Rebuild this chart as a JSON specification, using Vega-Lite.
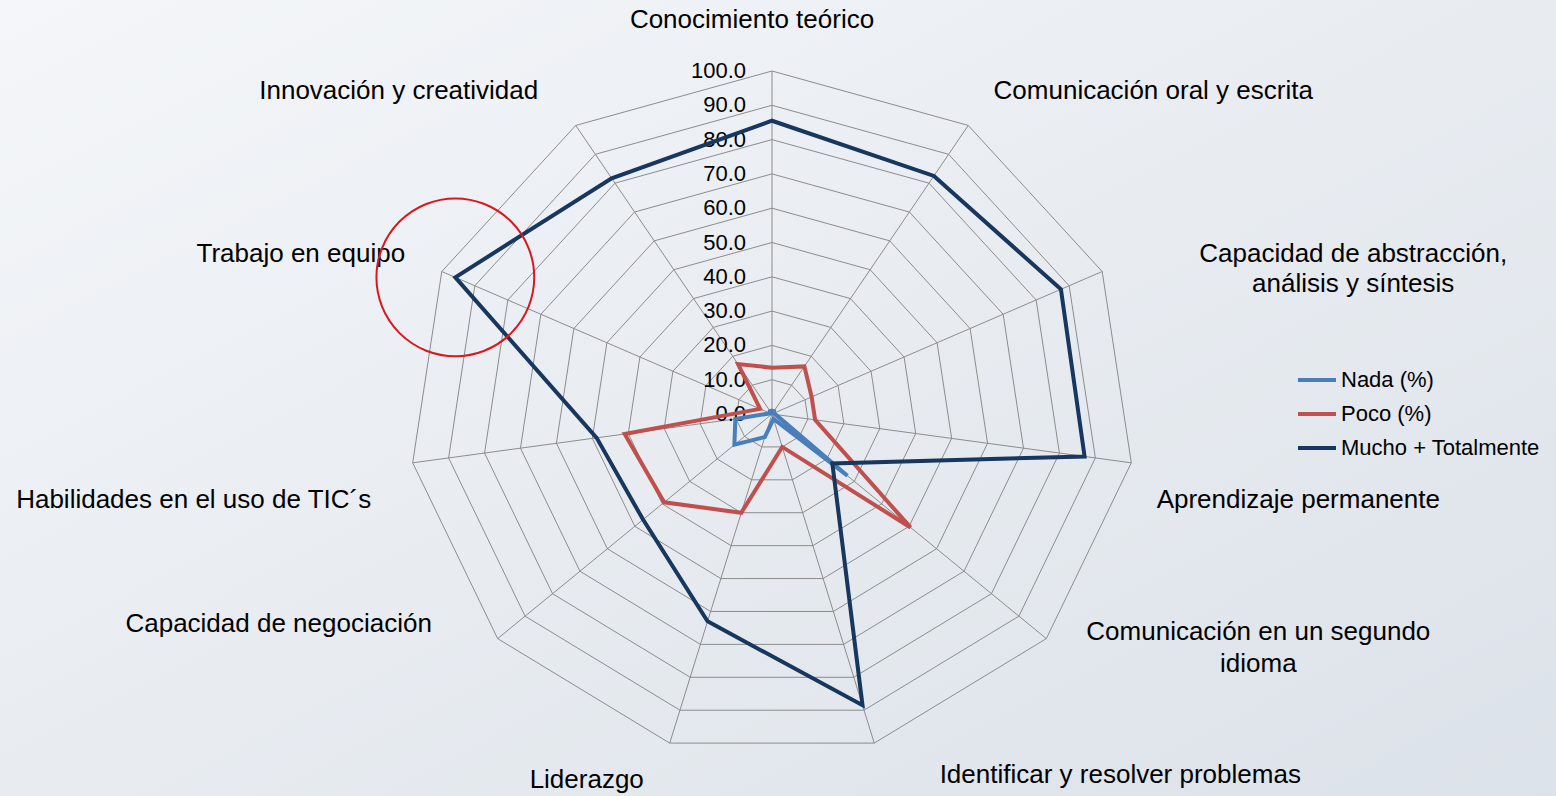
{
  "$schema": "https://vega.github.io/schema/vega-lite/v6.json",
  "width": 1556,
  "height": 796,
  "autosize": {"type": "none"},
  "padding": 0,
  "background": "#e8ecf1",
  "config": {
    "font": "Liberation Sans",
    "view": {
      "stroke": null,
      "fill": {"gradient": "linear", "x1": 0, "y1": 0, "x2": 1, "y2": 1,
        "stops": [{"offset": 0, "color": "#f4f6f9"}, {"offset": 0.5, "color": "#e8ecf1"}, {"offset": 1, "color": "#dce2e9"}]}
    }
  },
  "datasets": {
    "axes": [
      {"k": 0, "name": "Conocimiento teórico", "rings": [0, 10, 20, 30, 40, 50, 60, 70, 80, 90, 100]},
      {"k": 1, "name": "Comunicación oral y escrita", "rings": [0, 10, 20, 30, 40, 50, 60, 70, 80, 90, 100]},
      {"k": 2, "name": "Capacidad de abstracción,\nanálisis y síntesis", "rings": [0, 10, 20, 30, 40, 50, 60, 70, 80, 90, 100]},
      {"k": 3, "name": "Aprendizaje permanente", "rings": [0, 10, 20, 30, 40, 50, 60, 70, 80, 90, 100]},
      {"k": 4, "name": "Comunicación en un segundo\nidioma", "rings": [0, 10, 20, 30, 40, 50, 60, 70, 80, 90, 100]},
      {"k": 5, "name": "Identificar y resolver problemas", "rings": [0, 10, 20, 30, 40, 50, 60, 70, 80, 90, 100]},
      {"k": 6, "name": "Liderazgo", "rings": [0, 10, 20, 30, 40, 50, 60, 70, 80, 90, 100]},
      {"k": 7, "name": "Capacidad de negociación", "rings": [0, 10, 20, 30, 40, 50, 60, 70, 80, 90, 100]},
      {"k": 8, "name": "Habilidades en el uso de TIC´s", "rings": [0, 10, 20, 30, 40, 50, 60, 70, 80, 90, 100]},
      {"k": 9, "name": "Trabajo en equipo", "rings": [0, 10, 20, 30, 40, 50, 60, 70, 80, 90, 100]},
      {"k": 10, "name": "Innovación y creatividad", "rings": [0, 10, 20, 30, 40, 50, 60, 70, 80, 90, 100]}
    ],
    "series": [
      {"series": "Nada (%)", "k": 0, "value": 1},
      {"series": "Nada (%)", "k": 1, "value": 1},
      {"series": "Nada (%)", "k": 2, "value": 0.5},
      {"series": "Nada (%)", "k": 3, "value": 1},
      {"series": "Nada (%)", "k": 4, "value": 27.5},
      {"series": "Nada (%)", "k": 5, "value": 1.5},
      {"series": "Nada (%)", "k": 6, "value": 7},
      {"series": "Nada (%)", "k": 7, "value": 13.7},
      {"series": "Nada (%)", "k": 8, "value": 10.2},
      {"series": "Nada (%)", "k": 9, "value": 0.5},
      {"series": "Nada (%)", "k": 10, "value": 1},
      {"series": "Poco (%)", "k": 0, "value": 13.5},
      {"series": "Poco (%)", "k": 1, "value": 16.5},
      {"series": "Poco (%)", "k": 2, "value": 12},
      {"series": "Poco (%)", "k": 3, "value": 12},
      {"series": "Poco (%)", "k": 4, "value": 50.5},
      {"series": "Poco (%)", "k": 5, "value": 10},
      {"series": "Poco (%)", "k": 6, "value": 30},
      {"series": "Poco (%)", "k": 7, "value": 39.3},
      {"series": "Poco (%)", "k": 8, "value": 41},
      {"series": "Poco (%)", "k": 9, "value": 3.6},
      {"series": "Poco (%)", "k": 10, "value": 17.3},
      {"series": "Mucho + Totalmente", "k": 0, "value": 85.5},
      {"series": "Mucho + Totalmente", "k": 1, "value": 82.5},
      {"series": "Mucho + Totalmente", "k": 2, "value": 87.5},
      {"series": "Mucho + Totalmente", "k": 3, "value": 87},
      {"series": "Mucho + Totalmente", "k": 4, "value": 22},
      {"series": "Mucho + Totalmente", "k": 5, "value": 88.5},
      {"series": "Mucho + Totalmente", "k": 6, "value": 63},
      {"series": "Mucho + Totalmente", "k": 7, "value": 47},
      {"series": "Mucho + Totalmente", "k": 8, "value": 48.8},
      {"series": "Mucho + Totalmente", "k": 9, "value": 95.9},
      {"series": "Mucho + Totalmente", "k": 10, "value": 81.7}
    ]
  },
  "encoding": {
    "x": {"field": "px", "type": "quantitative", "axis": null,
      "scale": {"domain": [-212.67, 215.98], "nice": false, "zero": false}},
    "y": {"field": "py", "type": "quantitative", "axis": null,
      "scale": {"domain": [-111.37, 120.7], "nice": false, "zero": false}}
  },
  "layer": [
    {
      "data": {"name": "axes"},
      "transform": [
        {"flatten": ["rings"], "as": ["ring"]},
        {"filter": "datum.ring > 0"},
        {"calculate": "datum.ring * sin(datum.k * 2 * PI / 11)", "as": "px"},
        {"calculate": "datum.ring * cos(datum.k * 2 * PI / 11)", "as": "py"}
      ],
      "mark": {"type": "line", "interpolate": "linear-closed", "stroke": "#8c8c8c", "strokeWidth": 1},
      "encoding": {
        "detail": {"field": "ring", "type": "nominal"},
        "order": {"field": "k", "type": "quantitative"}
      }
    },
    {
      "data": {"name": "axes"},
      "transform": [
        {"calculate": "100 * sin(datum.k * 2 * PI / 11)", "as": "px"},
        {"calculate": "100 * cos(datum.k * 2 * PI / 11)", "as": "py"}
      ],
      "layer": [
        {
          "mark": {"type": "rule", "stroke": "#8c8c8c", "strokeWidth": 1},
          "encoding": {"x2": {"datum": 0}, "y2": {"datum": 0}}
        },
        {"transform": [{"filter": "datum.k == 0"}], "mark": {"type": "text", "fontSize": 26, "align": "center", "baseline": "middle", "lineBreak": "\n", "lineHeight": 30, "color": "#000000", "dx": -20, "dy": -51}, "encoding": {"text": {"field": "name"}}},
        {"transform": [{"filter": "datum.k == 1"}], "mark": {"type": "text", "fontSize": 26, "align": "center", "baseline": "middle", "lineBreak": "\n", "lineHeight": 30, "color": "#000000", "dx": 185, "dy": -34}, "encoding": {"text": {"field": "name"}}},
        {"transform": [{"filter": "datum.k == 2"}], "mark": {"type": "text", "fontSize": 26, "align": "center", "baseline": "middle", "lineBreak": "\n", "lineHeight": 30, "color": "#000000", "dx": 251, "dy": -18}, "encoding": {"text": {"field": "name"}}},
        {"transform": [{"filter": "datum.k == 3"}], "mark": {"type": "text", "fontSize": 26, "align": "center", "baseline": "middle", "lineBreak": "\n", "lineHeight": 30, "color": "#000000", "dx": 167, "dy": 37}, "encoding": {"text": {"field": "name"}}},
        {"transform": [{"filter": "datum.k == 4"}], "mark": {"type": "text", "fontSize": 26, "align": "center", "baseline": "middle", "lineBreak": "\n", "lineHeight": 32, "color": "#000000", "dx": 212, "dy": -7}, "encoding": {"text": {"field": "name"}}},
        {"transform": [{"filter": "datum.k == 5"}], "mark": {"type": "text", "fontSize": 26, "align": "center", "baseline": "middle", "lineBreak": "\n", "lineHeight": 30, "color": "#000000", "dx": 246, "dy": 32}, "encoding": {"text": {"field": "name"}}},
        {"transform": [{"filter": "datum.k == 6"}], "mark": {"type": "text", "fontSize": 26, "align": "center", "baseline": "middle", "lineBreak": "\n", "lineHeight": 30, "color": "#000000", "dx": -83, "dy": 37}, "encoding": {"text": {"field": "name"}}},
        {"transform": [{"filter": "datum.k == 7"}], "mark": {"type": "text", "fontSize": 26, "align": "center", "baseline": "middle", "lineBreak": "\n", "lineHeight": 30, "color": "#000000", "dx": -219, "dy": -15}, "encoding": {"text": {"field": "name"}}},
        {"transform": [{"filter": "datum.k == 8"}], "mark": {"type": "text", "fontSize": 26, "align": "center", "baseline": "middle", "lineBreak": "\n", "lineHeight": 30, "color": "#000000", "dx": -219, "dy": 37}, "encoding": {"text": {"field": "name"}}},
        {"transform": [{"filter": "datum.k == 9"}], "mark": {"type": "text", "fontSize": 26, "align": "center", "baseline": "middle", "lineBreak": "\n", "lineHeight": 30, "color": "#000000", "dx": -141, "dy": -18}, "encoding": {"text": {"field": "name"}}},
        {"transform": [{"filter": "datum.k == 10"}], "mark": {"type": "text", "fontSize": 26, "align": "center", "baseline": "middle", "lineBreak": "\n", "lineHeight": 30, "color": "#000000", "dx": -177, "dy": -34}, "encoding": {"text": {"field": "name"}}}
      ]
    },
    {
      "data": {"name": "axes"},
      "transform": [
        {"filter": "datum.k == 0"},
        {"flatten": ["rings"], "as": ["ring"]},
        {"calculate": "0", "as": "px"},
        {"calculate": "datum.ring", "as": "py"}
      ],
      "mark": {"type": "text", "fontSize": 22, "align": "right", "baseline": "middle", "dx": -26, "color": "#000000"},
      "encoding": {"text": {"field": "ring", "type": "quantitative", "format": ".1f"}}
    },
    {
      "data": {"name": "series"},
      "transform": [
        {"calculate": "datum.value * sin(datum.k * 2 * PI / 11)", "as": "px"},
        {"calculate": "datum.value * cos(datum.k * 2 * PI / 11)", "as": "py"}
      ],
      "mark": {"type": "line", "interpolate": "linear-closed", "strokeWidth": 4, "strokeJoin": "miter"},
      "encoding": {
        "color": {"field": "series", "type": "nominal", "sort": null,
          "scale": {"domain": ["Nada (%)", "Poco (%)", "Mucho + Totalmente"], "range": ["#4a7ebb", "#c0504d", "#17375e"]},
          "legend": {"title": null, "orient": "none", "legendX": 1296, "legendY": 359, "symbolType": "stroke", "symbolSize": 1444, "symbolStrokeWidth": 4, "labelFontSize": 22, "labelFont": "Liberation Sans", "labelColor": "#000000", "labelOffset": 3, "labelLimit": 0, "rowPadding": 2, "padding": 0}},
        "order": {"field": "k", "type": "quantitative"}
      }
    },
    {
      "data": {"name": "series"},
      "transform": [
        {"filter": "datum.series == 'Mucho + Totalmente' && datum.k == 9"},
        {"calculate": "datum.value * sin(datum.k * 2 * PI / 11)", "as": "px"},
        {"calculate": "datum.value * cos(datum.k * 2 * PI / 11)", "as": "py"}
      ],
      "mark": {"type": "point", "shape": "circle", "filled": false, "size": 24900, "stroke": "#d7191f", "strokeWidth": 2, "opacity": 1, "dy": 2}
    }
  ]
}
